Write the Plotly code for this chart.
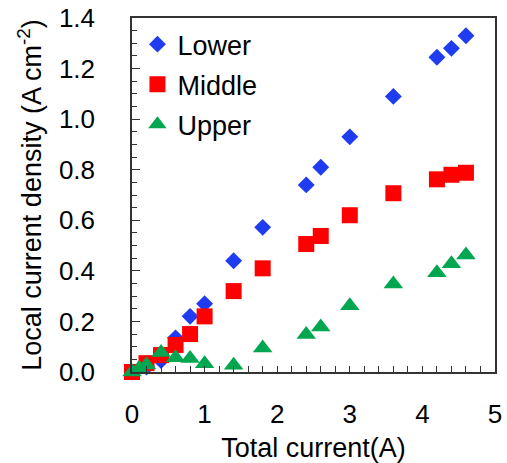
import plotly.graph_objects as go

x_lower = [0, 0.2, 0.4, 0.6, 0.8, 1.0, 1.4, 1.8, 2.4, 2.6, 3.0, 3.6, 4.2, 4.4, 4.6]
y_lower = [0.0, 0.02, 0.045, 0.135, 0.22, 0.27, 0.44, 0.572, 0.74, 0.81, 0.93, 1.09, 1.245, 1.28, 1.33]

x_middle = [0, 0.2, 0.4, 0.6, 0.8, 1.0, 1.4, 1.8, 2.4, 2.6, 3.0, 3.6, 4.2, 4.4, 4.6]
y_middle = [0.0, 0.035, 0.067, 0.107, 0.15, 0.22, 0.32, 0.41, 0.506, 0.538, 0.62, 0.707, 0.762, 0.78, 0.788]

x_upper = [0, 0.1, 0.2, 0.4, 0.6, 0.8, 1.0, 1.4, 1.8, 2.4, 2.6, 3.0, 3.6, 4.2, 4.4, 4.6]
y_upper = [0.0, 0.015, 0.028, 0.077, 0.056, 0.053, 0.033, 0.027, 0.095, 0.148, 0.178, 0.262, 0.348, 0.393, 0.428, 0.463]

FONT = "Liberation Sans, Arial, sans-serif"

fig = go.Figure()
fig.add_trace(go.Scatter(x=x_lower, y=y_lower, mode="markers", name="Lower",
                         legendgroup="a",
                         marker=dict(symbol="diamond", size=13, color="#1f3cf0"),
                         cliponaxis=False))
fig.add_trace(go.Scatter(x=x_middle, y=y_middle, mode="markers", name="Middle",
                         legendgroup="b",
                         marker=dict(symbol="square", size=16, color="#ff0000"),
                         cliponaxis=False))
fig.add_trace(go.Scatter(x=x_upper, y=y_upper, mode="markers", name="Upper",
                         legendgroup="c",
                         marker=dict(symbol="triangle-up", size=17, color="#00a650"),
                         cliponaxis=False))

axis_common = dict(
    showline=True, linecolor="#333333", linewidth=1.5, mirror=True,
    showgrid=False, zeroline=False, ticks="inside", tickcolor="#333333",
    tickfont=dict(family=FONT, size=26, color="#000000"),
    automargin=False,
)

fig.update_xaxes(range=[0, 5], dtick=1, ticklen=6, tickwidth=1,
                 ticklabelstandoff=18,
                 minor=dict(dtick=0.2, ticks="inside", ticklen=6, tickcolor="#333333"),
                 title=dict(text="Total current(A)", font=dict(family=FONT, size=27, color="#000"), standoff=10),
                 **axis_common)
fig.update_yaxes(range=[0, 1.4], dtick=0.2, tickformat=".1f", ticklen=8, tickwidth=1,
                 ticklabelstandoff=30,
                 minor=dict(dtick=0.05, ticks="inside", ticklen=5, tickcolor="#333333"),
                 title=dict(text="Local current density (A cm<sup>-2</sup>)",
                            font=dict(family=FONT, size=27, color="#000"), standoff=9),
                 **axis_common)

fig.update_layout(
    width=507, height=463,
    margin=dict(l=132, r=12, t=18, b=91),
    plot_bgcolor="white", paper_bgcolor="white",
    font=dict(family=FONT, size=27, color="#000"),
    legend=dict(x=0.015, y=0.994, xanchor="left", yanchor="top",
                bgcolor="rgba(0,0,0,0)", traceorder="grouped", tracegroupgap=2,
                font=dict(family=FONT, size=27, color="#000")),
    showlegend=True,
)

fig.write_html("out.html")
